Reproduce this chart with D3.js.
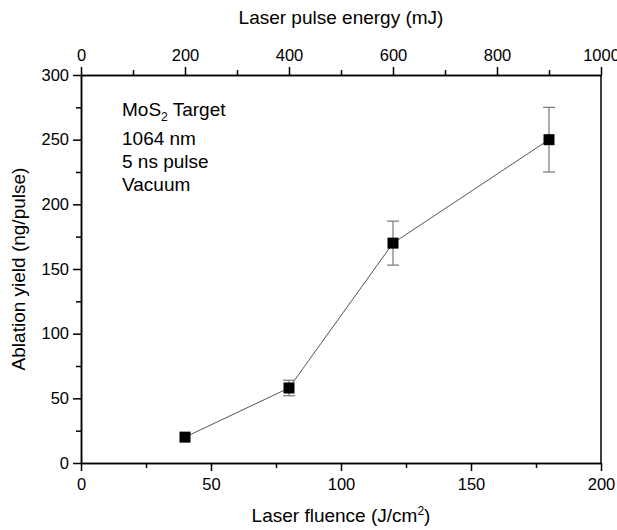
<!DOCTYPE html>
<html>
<head>
<meta charset="utf-8">
<script src="https://cdn.jsdelivr.net/npm/d3@7"></script>
<style>
  body { margin: 0; background: #fff; }
  text { font-family: "Liberation Sans", Arial, sans-serif; fill: #000; }
</style>
</head>
<body>
<svg id="chart" width="617" height="530"></svg>
<script>
// data
var fluence = [40, 80, 120, 180];
var yieldVals = [20, 58, 170, 250];
var yieldErr = [0, 6, 17, 25];
var notes = ["1064 nm", "5 ns pulse", "Vacuum"];

var svg = d3.select("#chart"),
    margin = { top: 75, right: 16, bottom: 67, left: 81 },
    width = +svg.attr("width") - margin.left - margin.right,
    height = +svg.attr("height") - margin.top - margin.bottom;

var x = d3.scaleLinear().domain([0, 200]).range([0, width]);
var xTop = d3.scaleLinear().domain([0, 1000]).range([0, width]);
var y = d3.scaleLinear().domain([0, 300]).range([height, 0]);

var g = svg.append("g")
    .attr("transform", "translate(" + margin.left + "," + margin.top + ")");

// axes: major + minor ticks
function styleAxis(sel) {
    sel.select(".domain").attr("stroke", "#000").attr("stroke-width", 1.5);
    sel.selectAll(".tick line").attr("stroke", "#000").attr("stroke-width", 1.5);
    sel.selectAll(".tick text").style("font-size", "16.5px");
}

g.append("g").attr("transform", "translate(0," + height + ")")
    .call(d3.axisBottom(x).tickValues(d3.range(25, 200, 50)).tickSize(5).tickFormat("").tickSizeOuter(0))
    .call(styleAxis);
g.append("g").attr("transform", "translate(0," + height + ")")
    .call(d3.axisBottom(x).tickValues(d3.range(0, 201, 50)).tickSize(8).tickPadding(7).tickFormat(d3.format("d")).tickSizeOuter(0))
    .call(styleAxis);

g.append("g")
    .call(d3.axisTop(xTop).tickValues(d3.range(100, 1000, 200)).tickSize(5).tickFormat("").tickSizeOuter(0))
    .call(styleAxis);
g.append("g")
    .call(d3.axisTop(xTop).tickValues(d3.range(0, 1001, 200)).tickSize(8).tickPadding(6).tickFormat(d3.format("d")).tickSizeOuter(0))
    .call(styleAxis);

g.append("g")
    .call(d3.axisLeft(y).tickValues(d3.range(25, 300, 50)).tickSize(5).tickFormat("").tickSizeOuter(0))
    .call(styleAxis);
g.append("g")
    .call(d3.axisLeft(y).tickValues(d3.range(0, 301, 50)).tickSize(8).tickPadding(4).tickFormat(d3.format("d")).tickSizeOuter(0))
    .call(styleAxis);

// right border
g.append("line")
    .attr("x1", width).attr("x2", width)
    .attr("y1", 0).attr("y2", height)
    .attr("stroke", "#000").attr("stroke-width", 1.5);

var pts = fluence.map(function(f, i) { return { x: f, y: yieldVals[i], e: yieldErr[i] }; });

// connecting line
g.append("path")
    .datum(pts)
    .attr("fill", "none")
    .attr("stroke", "#555")
    .attr("stroke-width", 1)
    .attr("d", d3.line().x(function(d) { return x(d.x); }).y(function(d) { return y(d.y); }));

// error bars
var eb = g.selectAll(".err").data(pts.filter(function(d) { return d.e > 0; }))
    .enter().append("g").attr("class", "err")
    .attr("stroke", "#777").attr("stroke-width", 1.2);
eb.append("line")
    .attr("x1", function(d) { return x(d.x); }).attr("x2", function(d) { return x(d.x); })
    .attr("y1", function(d) { return y(d.y + d.e); }).attr("y2", function(d) { return y(d.y - d.e); });
[1, -1].forEach(function(s) {
    eb.append("line")
        .attr("x1", function(d) { return x(d.x) - 6; }).attr("x2", function(d) { return x(d.x) + 6; })
        .attr("y1", function(d) { return y(d.y + s * d.e); }).attr("y2", function(d) { return y(d.y + s * d.e); });
});

// markers
g.selectAll(".pt").data(pts).enter().append("rect")
    .attr("x", function(d) { return x(d.x) - 5.5; })
    .attr("y", function(d) { return y(d.y) - 5.5; })
    .attr("width", 11).attr("height", 11)
    .attr("fill", "#000");

// axis titles
svg.append("text")
    .attr("x", margin.left + width / 2).attr("y", 522)
    .attr("text-anchor", "middle").style("font-size", "19px")
    .html('Laser fluence (J/cm<tspan dy="-7" style="font-size:12px">2</tspan><tspan dy="7">)</tspan>');

svg.append("text")
    .attr("x", margin.left + width / 2).attr("y", 24)
    .attr("text-anchor", "middle").style("font-size", "19px")
    .text("Laser pulse energy (mJ)");

svg.append("text")
    .attr("transform", "translate(25," + (margin.top + height / 2) + ") rotate(-90)")
    .attr("text-anchor", "middle").style("font-size", "19px")
    .text("Ablation yield (ng/pulse)");

// annotation
svg.append("text")
    .attr("x", 122).attr("y", 116).style("font-size", "19px")
    .html('MoS<tspan dy="5" style="font-size:12px">2</tspan><tspan dy="-5"> Target</tspan>');
svg.selectAll(".note").data(notes).enter().append("text")
    .attr("x", 122)
    .attr("y", function(d, i) { return 145 + i * 23; })
    .style("font-size", "19px")
    .text(function(d) { return d; });
</script>
</body>
</html>
